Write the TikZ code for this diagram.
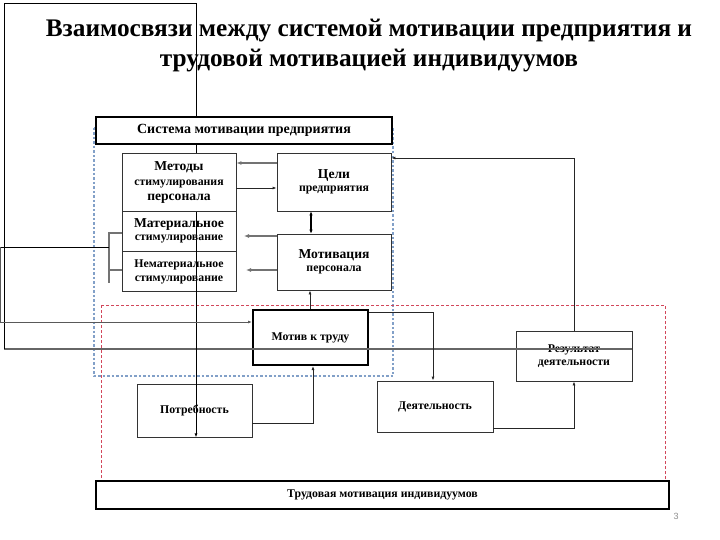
\documentclass[tikz,border=0pt]{standalone}
\usepackage{fontspec}
\setmainfont{Liberation Serif}
\setsansfont{Liberation Sans}
\usetikzlibrary{positioning}
\usetikzlibrary{arrows.meta}

\begin{document}
\begin{tikzpicture}[x=1pt, y=-1pt,
  box/.style = {draw=black!80, line width=0.8pt, align=center, inner sep=1pt,
                font=\bfseries\fontsize{11.8}{13.5}\selectfont},
  frame/.style = {box, draw=black, line width=2.2pt, fill=white},
  link/.style = {draw=black!85, line width=0.8pt},
  tip/.style = {link, -{Latex[length=4pt,width=3pt]}},
  fat/.style = {draw=black!55, line width=2pt, -{Latex[length=5pt,width=4pt]}}]

\newcommand{\bigw}[1]{{\fontsize{13.6}{15}\selectfont #1}}

\useasboundingbox (0,0) rectangle (720,540);

\node[font=\bfseries\fontsize{25.3}{30}\selectfont, align=center] (head) at (369,46)
  {Взаимосвязи между системой мотивации предприятия и\\трудовой мотивацией индивидуумов};

% dashed frames
\draw[draw={rgb,255:red,130;green,160;blue,200}, line width=1.2pt, dash pattern=on 2.5pt off 2pt]
  (94,128) rectangle (393,376);
\draw[draw={rgb,255:red,210;green,70;blue,90}, line width=1pt, dash pattern=on 3pt off 2pt]
  (101,305) rectangle (665,490);

\node[box, minimum width=115pt, minimum height=53pt] (need) at (194.5,410.5) {Потребность};
\node[box, minimum width=114pt, minimum height=40pt] (mat) at (179,231)
  {\bigw{Материальное}\\стимулирование};
\node[box, minimum width=114pt, minimum height=40pt] (nemat) [below=0pt of mat]
  {Нематериальное\\стимулирование};
\node[box, minimum width=114pt, minimum height=58pt] (goal) at (334,182)
  {\bigw{Цели}\\предприятия};
\node[box, minimum width=114pt, minimum height=56pt] (motiv) at (334,262)
  {\bigw{Мотивация}\\персонала};
\node[box, line width=2pt, draw=black, minimum width=115pt, minimum height=55pt] (motw) at (310.5,337.5)
  {Мотив к труду};
\node[box, minimum width=116pt, minimum height=51pt] (act) at (435,406.5) {Деятельность};
\node[box, minimum width=116pt, minimum height=50pt] (res) at (574,356)
  {Результат\\деятельности};

% stray lines
\coordinate (c1) at (4,349);
\coordinate (c2) at (4,3);
\coordinate (c3) at (196,3);
\draw[link, draw=black!60, line width=1.5pt] (res.east |- c1) -- (c1);
\draw[tip, draw=black] (c1) -- (c2) -- (c3) -- (need.south -| c3);

\coordinate (b1) at (109,233);
\coordinate (b2) at (109,283);
\coordinate (b3) at (109,247);
\coordinate (l1) at (0.7,247);
\coordinate (l2) at (0.7,322);
\draw[link, draw=black!55, line width=1.3pt] (mat.west |- b1) -- (b1) -- (b2);
\draw[link, draw=black!55, line width=1.3pt] (b1 |- 0,270) -- (nemat.west |- 0,270);
\draw[link, draw=black] (l1) -- (b3);
\draw[tip, draw=black!65] (l1) -- (l2) -- (motw.west |- l2);

\node[frame, minimum width=296pt, minimum height=27pt, font=\bfseries\fontsize{14}{15}\selectfont]
  (sys) at (244,130.5) {Система мотивации предприятия};
\node[box, fill=white, minimum width=114pt, minimum height=58pt] (meth) at (179,182)
  {\bigw{Методы}\\[1.5pt]стимулирования\\[1.5pt]\bigw{персонала}};
\node[frame, minimum width=573pt, minimum height=28pt] (lab) at (382.5,495)
  {Трудовая мотивация индивидуумов};

\coordinate (matgap) at (244,236);
\coordinate (nematgap) at (246,270);
\draw[fat] (goal.west |- 0,163) -- (meth.east |- 0,163);
\draw[tip] (meth.east |- 0,188) -- (goal.west |- 0,188);
\draw[link, line width=1.4pt, draw=black, {Latex[length=4pt,width=3.5pt]}-{Latex[length=4pt,width=3.5pt]}]
  (goal.south -| 311,0) -- (motiv.north -| 311,0);
\draw[fat] (motiv.west |- matgap) -- (matgap);
\draw[fat] (motiv.west |- nematgap) -- (nematgap);
\draw[tip] (motw.north -| 310,0) -- (motiv.south -| 310,0);
\draw[tip] (need.east |- 0,423) -| (motw.south -| 313,0);
\draw[tip] (motw.east |- 0,312) -| (act.north -| 433,0);
\draw[tip] (act.east |- 0,428) -| (res.south);
\draw[tip] (res.north) |- (goal.east |- 0,158);

\node[text=black!45, font=\sffamily\fontsize{9}{9}\selectfont] (pg) at (676,516) {3};

\end{tikzpicture}
\end{document}
